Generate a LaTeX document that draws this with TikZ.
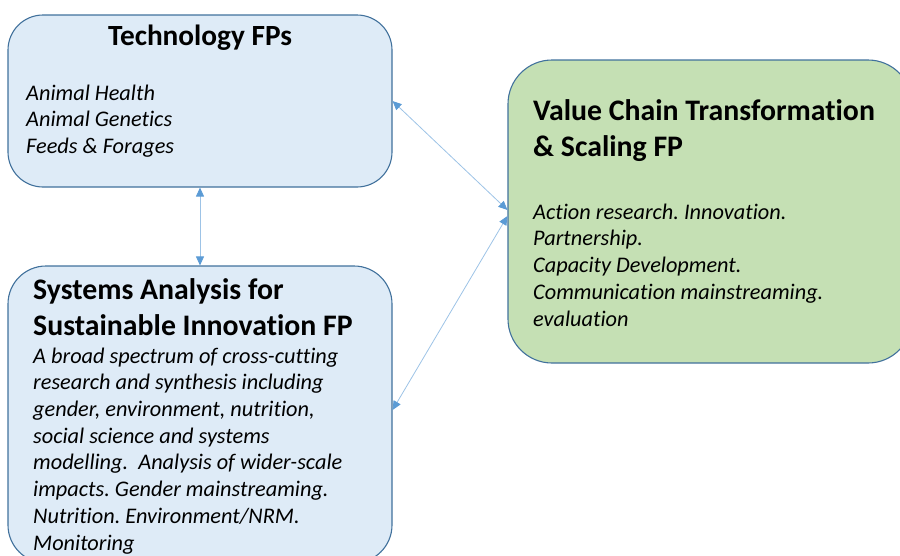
\documentclass[tikz,border=0pt]{standalone}
\usepackage{fontspec}
\setmainfont{Carlito}[Ligatures=NoCommon]
\frenchspacing
\usetikzlibrary{arrows.meta}
\definecolor{boxline}{HTML}{41719C}
\definecolor{bluefill}{HTML}{DEEBF7}
\definecolor{greenfill}{HTML}{C5E0B4}
\definecolor{arrline}{HTML}{9DC3E6}
\definecolor{arrtip}{HTML}{5B9BD5}
\tikzset{
  fpbox/.style={draw=boxline, line width=1.1pt, rounded corners=#1, inner sep=0pt},
  titletext/.style={font=\fontsize{29.8}{36}\selectfont\bfseries, inner sep=0pt, align=left},
  bodytext/.style={font=\fontsize{22.3}{26.7}\selectfont\itshape, inner sep=0pt, align=left},
  link/.style={draw=arrline, line width=0.8pt, {Triangle[length=9pt,width=8pt,color=arrtip]}-{Triangle[length=9pt,width=8pt,color=arrtip]}}
}
\begin{document}
\begin{tikzpicture}[x=1pt,y=-1pt]
\useasboundingbox (0,0) rectangle (900,555);
\clip (0,0) rectangle (900,555);
% boxes
\node[fpbox=35pt, fill=bluefill, minimum width=384pt, minimum height=172pt] (tech) at (200,101) {};
\node[fpbox=38pt, fill=bluefill, minimum width=384pt, minimum height=297pt] (sys) at (200,414.5) {};
\node[fpbox=44pt, fill=greenfill, minimum width=404pt, minimum height=303pt] (vc) at (710,211.5) {};
% texts (base anchor = baseline of the last line)
\node[titletext, font=\fontsize{29.3}{36}\selectfont\bfseries, anchor=base] (techT) at (200,45) {Technology FPs};
\node[bodytext, anchor=base west] (techB) at (26,153.4) {Animal Health\\Animal Genetics\\Feeds \& Forages};
\node[titletext, anchor=base west] (vcT) at (533,156) {Value Chain Transformation\\\& Scaling FP};
\node[bodytext, anchor=base west] (vcB) at (533,326) {Action research. Innovation.\\Partnership.\\Capacity Development.\\Communication mainstreaming.\\evaluation};
\node[titletext, anchor=base west] (sysT) at (33,335) {Systems Analysis for\\Sustainable Innovation FP};
\node[bodytext, anchor=base west] (sysB) at (33,550) {A broad spectrum of cross-cutting\\research and synthesis including\\gender, environment, nutrition,\\social science and systems\\modelling.\ \ Analysis of wider-scale\\impacts. Gender mainstreaming.\\Nutrition. Environment/NRM.\\Monitoring};
% connectors
\draw[link] (tech.south) -- (sys.north);
\draw[link] ([yshift=0pt]tech.east) -- ([yshift=1.5pt]vc.west);
\draw[link] ([yshift=4.5pt]sys.east) -- ([yshift=-4.5pt]vc.west);
\end{tikzpicture}
\end{document}
